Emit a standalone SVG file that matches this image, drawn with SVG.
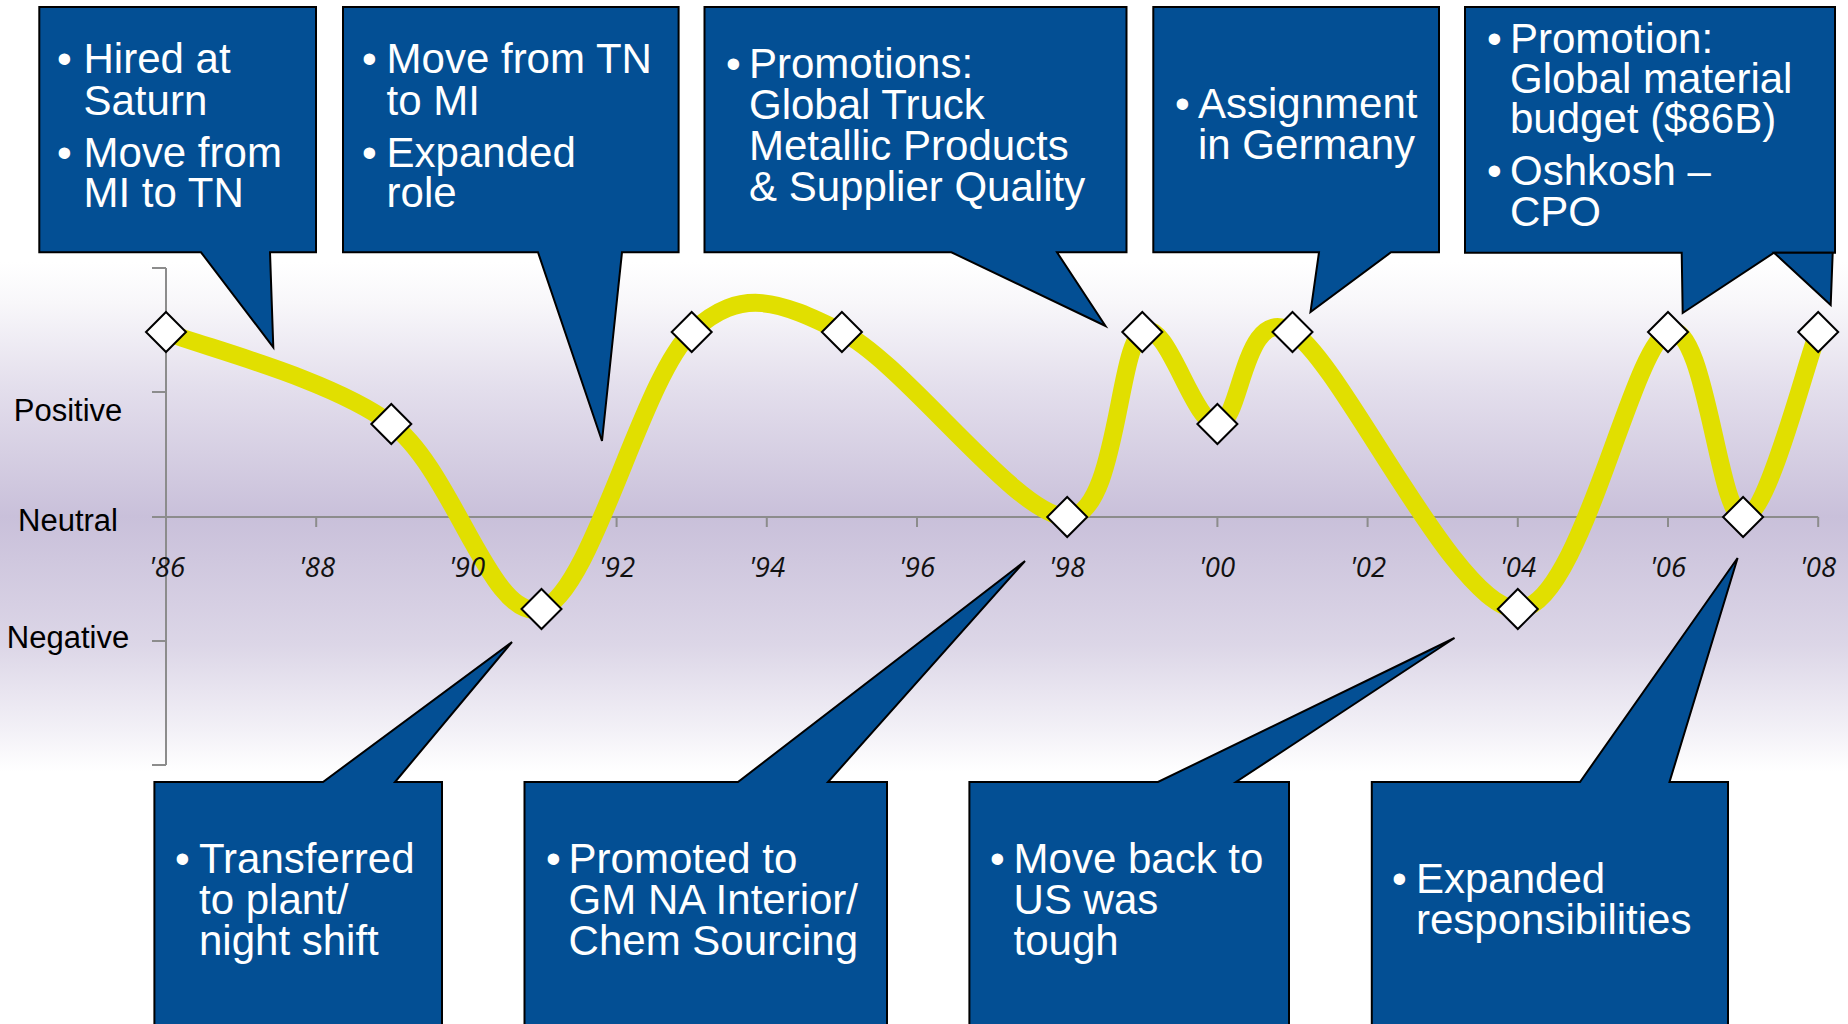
<svg xmlns="http://www.w3.org/2000/svg" width="1848" height="1024" viewBox="0 0 1848 1024">
  <defs>
    <linearGradient id="bg" x1="0" y1="0" x2="0" y2="1">
      <stop offset="0" stop-color="#FFFFFF"/>
      <stop offset="0.08" stop-color="#F8F7FA"/>
      <stop offset="0.25" stop-color="#E3DEEC"/>
      <stop offset="0.5" stop-color="#C9C0DA"/>
      <stop offset="0.75" stop-color="#DCD6E7"/>
      <stop offset="0.92" stop-color="#F3F1F7"/>
      <stop offset="1" stop-color="#FFFFFF"/>
    </linearGradient>
    <style>
      .box { fill: #034F94; stroke: #000; stroke-width: 2; stroke-linejoin: miter; }
      .bt { font-family: "Liberation Sans", Arial, sans-serif; font-size: 42px; fill: #FFFFFF; }
      .lbl { font-family: "Liberation Sans", Arial, sans-serif; font-size: 31px; fill: #000; text-anchor: middle; }
      .yr { font-family: "Open Sans", "DejaVu Sans", sans-serif; font-style: italic; font-size: 27.5px; fill: #111; text-anchor: middle; }
      .ax { stroke: #8C8C8C; stroke-width: 2; fill: none; }
      .dia { fill: #FFFFFF; stroke: #000; stroke-width: 2; }
      .curve { fill: none; stroke: #E1DF00; stroke-width: 18; stroke-linecap: butt; stroke-linejoin: round; }
    </style>
  </defs>

  <rect x="0" y="0" width="1848" height="1024" fill="#FFFFFF"/>
  <rect id="plot-area" x="0" y="262" width="1848" height="510" fill="url(#bg)"/>

  <g id="axes">
    <path class="ax" d="M166,268 V765 M152,268 H166 M152,392 H166 M152,641 H166 M152,765 H166 M152,517 H1818.2"/>
    <path class="ax" d="M316.2,517 V527 M466.4,517 V527 M616.6,517 V527 M766.8,517 V527 M917,517 V527 M1067.2,517 V527 M1217.4,517 V527 M1367.6,517 V527 M1517.8,517 V527 M1668,517 V527 M1818.2,517 V527"/>
    <text class="lbl" x="68" y="421">Positive</text>
    <text class="lbl" x="68" y="531">Neutral</text>
    <text class="lbl" x="68" y="648">Negative</text>
  </g>

  <g id="connectors">
    <path class="curve" d="M166,332 C203.6,347.3 328.7,377.8 391.3,424 C453.9,470.2 491.4,624.3 541.5,609 C591.6,593.7 641.6,378.2 691.7,332 C741.8,285.8 779.3,301.2 841.9,332 C904.5,362.8 1017.1,517 1067.2,517 C1117.3,517 1117.3,347.5 1142.3,332 C1167.3,316.5 1192.4,424 1217.4,424 C1242.4,424 1242.4,301.2 1292.5,332 C1342.6,362.8 1455.2,609 1517.8,609 C1580.4,609 1630.5,347.3 1668,332 C1705.6,316.7 1718.1,517 1743.1,517 C1768.1,517 1805.7,362.8 1818.2,332"/>
  </g>

  <g id="year-labels">
    <text class="yr" x="167" y="577">'86</text>
    <text class="yr" x="317" y="577">'88</text>
    <text class="yr" x="467" y="577">'90</text>
    <text class="yr" x="617" y="577">'92</text>
    <text class="yr" x="767" y="577">'94</text>
    <text class="yr" x="917" y="577">'96</text>
    <text class="yr" x="1067" y="577">'98</text>
    <text class="yr" x="1217" y="577">'00</text>
    <text class="yr" x="1368" y="577">'02</text>
    <text class="yr" x="1518" y="577">'04</text>
    <text class="yr" x="1668" y="577">'06</text>
    <text class="yr" x="1818" y="577">'08</text>
  </g>

  <g id="markers">
    <polygon class="dia" points="166,312 186,332 166,352 146,332"/>
    <polygon class="dia" points="391.3,404 411.3,424 391.3,444 371.3,424"/>
    <polygon class="dia" points="541.5,589 561.5,609 541.5,629 521.5,609"/>
    <polygon class="dia" points="691.7,312 711.7,332 691.7,352 671.7,332"/>
    <polygon class="dia" points="841.9,312 861.9,332 841.9,352 821.9,332"/>
    <polygon class="dia" points="1067.2,497 1087.2,517 1067.2,537 1047.2,517"/>
    <polygon class="dia" points="1142.3,312 1162.3,332 1142.3,352 1122.3,332"/>
    <polygon class="dia" points="1217.4,404 1237.4,424 1217.4,444 1197.4,424"/>
    <polygon class="dia" points="1292.5,312 1312.5,332 1292.5,352 1272.5,332"/>
    <polygon class="dia" points="1517.8,589 1537.8,609 1517.8,629 1497.8,609"/>
    <polygon class="dia" points="1668,312 1688,332 1668,352 1648,332"/>
    <polygon class="dia" points="1743.1,497 1763.1,517 1743.1,537 1723.1,517"/>
    <polygon class="dia" points="1818.2,312 1838.2,332 1818.2,352 1798.2,332"/>
  </g>

  <g id="callout-1986">
    <polygon class="box" points="39.3,7 316,7 316,252.3 270,252.3 273.3,347.3 201,252.3 39.3,252.3"/>
    <text class="bt" x="57" y="73">•</text>
    <text class="bt" x="83.5" y="73">Hired at</text>
    <text class="bt" x="83.5" y="115">Saturn</text>
    <text class="bt" x="57" y="167">•</text>
    <text class="bt" x="83.5" y="167">Move from</text>
    <text class="bt" x="83.5" y="207">MI to TN</text>
  </g>

  <g id="callout-1991">
    <polygon class="box" points="343,7 678.6,7 678.6,252.3 622,252.3 602,441 538,252.3 343,252.3"/>
    <text class="bt" x="362" y="73">•</text>
    <text class="bt" x="386.6" y="73">Move from TN</text>
    <text class="bt" x="386.6" y="115">to MI</text>
    <text class="bt" x="362" y="167">•</text>
    <text class="bt" x="386.6" y="167">Expanded</text>
    <text class="bt" x="386.6" y="207">role</text>
  </g>

  <g id="callout-1998-promotions">
    <polygon class="box" points="704.5,7 1126.5,7 1126.5,252.3 1057,252.3 1105.5,326 951.4,252.3 704.5,252.3"/>
    <text class="bt" x="726" y="78">•</text>
    <text class="bt" x="749" y="78">Promotions:</text>
    <text class="bt" x="749" y="119">Global Truck</text>
    <text class="bt" x="749" y="160">Metallic Products</text>
    <text class="bt" x="749" y="201">&amp; Supplier Quality</text>
  </g>

  <g id="callout-germany">
    <polygon class="box" points="1153.3,7 1439,7 1439,252.3 1391,252.3 1310.5,312 1319,252.3 1153.3,252.3"/>
    <text class="bt" x="1175" y="118">•</text>
    <text class="bt" x="1198" y="118">Assignment</text>
    <text class="bt" x="1198" y="159">in Germany</text>
  </g>

  <g id="callout-oshkosh">
    <polygon class="box" points="1465,7 1835,7 1835,252.7 1774,252.7 1682.7,313 1681.7,252.7 1465,252.7"/>
    <polygon class="box" points="1774,252.7 1832.7,252.7 1830.7,305"/>
    <text class="bt" x="1487" y="53">•</text>
    <text class="bt" x="1510" y="53">Promotion:</text>
    <text class="bt" x="1510" y="93">Global material</text>
    <text class="bt" x="1510" y="133">budget ($86B)</text>
    <text class="bt" x="1487" y="185">•</text>
    <text class="bt" x="1510" y="185">Oshkosh –</text>
    <text class="bt" x="1510" y="226">CPO</text>
  </g>

  <g id="callout-plant">
    <polygon class="box" points="154.4,782 323,782 512,642 395,782 442,782 442,1030 154.4,1030"/>
    <text class="bt" x="175" y="873">•</text>
    <text class="bt" x="199" y="873">Transferred</text>
    <text class="bt" x="199" y="914">to plant/</text>
    <text class="bt" x="199" y="955">night shift</text>
  </g>

  <g id="callout-gmna">
    <polygon class="box" points="524.5,782 738,782 1025,561 828,782 887,782 887,1030 524.5,1030"/>
    <text class="bt" x="546" y="873">•</text>
    <text class="bt" x="568.6" y="873">Promoted to</text>
    <text class="bt" x="568.6" y="914">GM NA Interior/</text>
    <text class="bt" x="568.6" y="955">Chem Sourcing</text>
  </g>

  <g id="callout-us">
    <polygon class="box" points="969.4,782 1158,782 1454.5,638 1236,782 1289,782 1289,1030 969.4,1030"/>
    <text class="bt" x="990" y="873">•</text>
    <text class="bt" x="1013.6" y="873">Move back to</text>
    <text class="bt" x="1013.6" y="914">US was</text>
    <text class="bt" x="1013.6" y="955">tough</text>
  </g>

  <g id="callout-expanded">
    <polygon class="box" points="1371.8,782 1580,782 1737.6,558 1669.5,782 1728,782 1728,1030 1371.8,1030"/>
    <text class="bt" x="1392" y="893">•</text>
    <text class="bt" x="1416" y="893">Expanded</text>
    <text class="bt" x="1416" y="934">responsibilities</text>
  </g>
</svg>
